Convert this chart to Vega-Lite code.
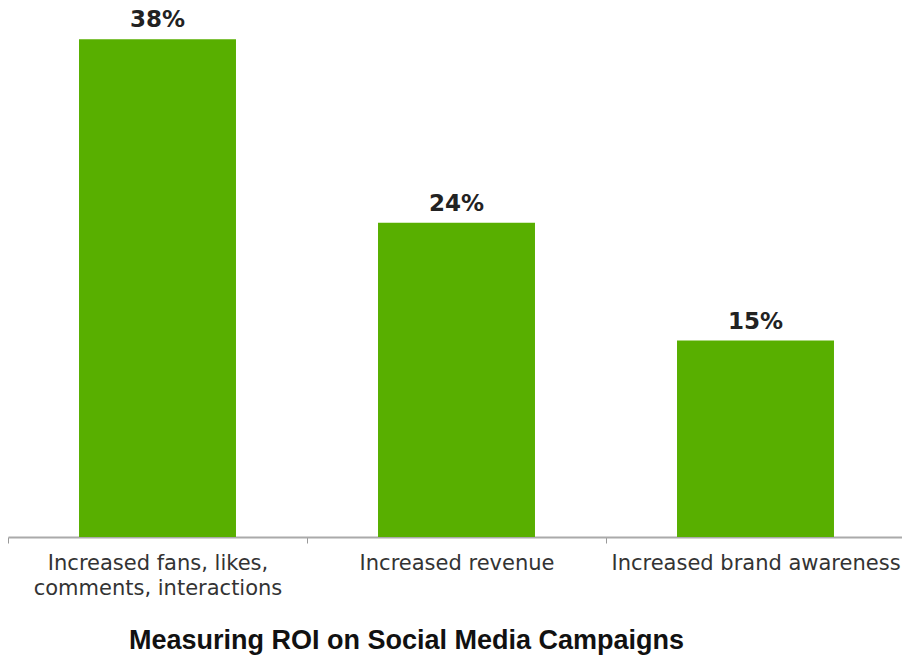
{
  "$schema": "https://vega.github.io/schema/vega-lite/v6.json",
  "width": 897,
  "height": 537,
  "autosize": "none",
  "padding": {"left": 8, "top": 0, "right": 0, "bottom": 120},
  "background": "white",
  "data": {"values": [
    {"category": "Increased fans, likes, comments, interactions", "share": 0.38},
    {"category": "Increased revenue", "share": 0.24},
    {"category": "Increased brand awareness", "share": 0.15}
  ]},
  "title": {
    "text": "Measuring ROI on Social Media Campaigns",
    "orient": "bottom",
    "anchor": "middle",
    "font": "Liberation Sans",
    "fontSize": 27,
    "fontWeight": "bold",
    "color": "#111111",
    "offset": 30,
    "dx": -50
  },
  "encoding": {
    "x": {
      "field": "category",
      "type": "nominal",
      "sort": null,
      "scale": {"paddingInner": 0, "paddingOuter": 0},
      "axis": {
        "title": null,
        "labelAngle": 0,
        "tickBand": "extent",
        "tickSize": 6,
        "tickColor": "#999999",
        "domainColor": "#aaaaaa",
        "domainWidth": 2,
        "labelFont": "DejaVu Sans",
        "labelFontSize": 21,
        "labelColor": "#333333",
        "labelPadding": 9,
        "labelLineHeight": 25,
        "labelLimit": 400,
        "labelExpr": "datum.value == 'Increased fans, likes, comments, interactions' ? ['Increased fans, likes,', 'comments, interactions'] : datum.value"
      }
    },
    "y": {
      "field": "share",
      "type": "quantitative",
      "scale": {"domain": [0, 0.41], "nice": false},
      "axis": null
    }
  },
  "layer": [
    {
      "mark": {"type": "bar", "color": "#58AF00", "width": {"band": 0.525}}
    },
    {
      "mark": {"type": "text", "baseline": "bottom", "dy": -7, "font": "DejaVu Sans", "fontSize": 23, "fontWeight": "bold", "color": "#222222"},
      "encoding": {"text": {"field": "share", "type": "quantitative", "format": ".0%"}}
    }
  ],
  "config": {"view": {"stroke": null}}
}
